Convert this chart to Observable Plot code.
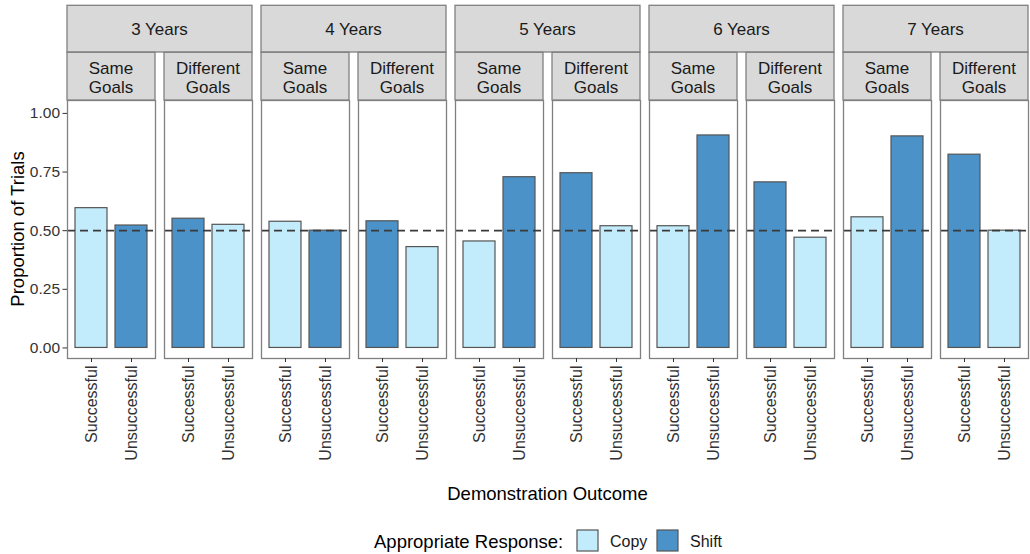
<!DOCTYPE html>
<html><head><meta charset="utf-8">
<script src="https://cdn.jsdelivr.net/npm/d3@7"></script>
<script src="https://cdn.jsdelivr.net/npm/@observablehq/plot@0.6"></script>
<style>
body{margin:0;background:#fff}
svg{font-family:"Liberation Sans",Arial,sans-serif}
</style>
</head><body><div id="chart"></div>
<script>
const ages = ["3 Years","4 Years","5 Years","6 Years","7 Years"];
const goals = ["Same Goals","Different Goals"];
const outcomes = ["Successful","Unsuccessful"];
// values per age: [Successful, Unsuccessful]
const sameGoalsValues = [[0.596,0.522],[0.538,0.500],[0.454,0.728],[0.519,0.906],[0.557,0.902]];
const differentGoalsValues = [[0.551,0.525],[0.540,0.430],[0.745,0.519],[0.706,0.470],[0.824,0.500]];
// appropriate response per outcome
const sameGoalsResponse = ["Copy","Shift"];
const differentGoalsResponse = ["Shift","Copy"];
const responses = ["Copy","Shift"];
const responseColors = ["#c2ecfb","#4b92c9"];
const yTicks = [0,0.25,0.5,0.75,1];
const chanceLevel = [0.5];

const rows = [];
const keys = [];
ages.forEach((age,i)=>{
  goals.forEach(goal=>{
    const key = age+"|"+goal;
    keys.push(key);
    const vals = goal==="Same Goals" ? sameGoalsValues[i] : differentGoalsValues[i];
    const resp = goal==="Same Goals" ? sameGoalsResponse : differentGoalsResponse;
    outcomes.forEach((o,j)=>rows.push({key, age, goal, outcome:o, value:vals[j], response:resp[j]}));
  });
});

const W=1030,H=554,ML=67,MR=2,MT=100,MB=196;
const plot = Plot.plot({
  width:W, height:H, marginLeft:ML, marginRight:MR, marginTop:MT, marginBottom:MB,
  style:{fontFamily:'"Liberation Sans",Arial,sans-serif', fontSize:"16px", background:"#fff", color:"#333"},
  fx:{domain:keys, paddingInner:9/97, paddingOuter:0, axis:null, label:null},
  x:{domain:outcomes, paddingInner:0.2, paddingOuter:0.2, label:null},
  y:{domain:[-0.045,1.055], label:null},
  color:{domain:responses, range:responseColors},
  marks:[
    Plot.barY(rows,{fx:"key", x:"outcome", y:"value", fill:"response", stroke:"#555", strokeWidth:1.2}),
    Plot.ruleY(chanceLevel,{stroke:"#3a3a3a", strokeWidth:1.8, strokeDasharray:"8,5"}),
    Plot.frame({stroke:"#808080", strokeWidth:1.3}),
    Plot.axisX({tickRotate:-90, tickSize:4, tickPadding:3, fontSize:16, label:null, stroke:"#333"}),
    Plot.axisY({ticks:yTicks, tickFormat:d3.format(".2f"), tickSize:4.5, tickPadding:3, fontSize:15.5, label:null, stroke:"#333"})
  ]
});

const svg = d3.select(plot);
const fxs = plot.scale("fx");
let fxf, bw;
if (fxs && typeof fxs.apply === "function") { fxf = v=>fxs.apply(v); bw = fxs.bandwidth; }
else {
  const b = d3.scaleBand(keys,[ML,W-MR]).paddingInner(9/97).paddingOuter(0);
  fxf = b; bw = b.bandwidth();
}

const g = svg.append("g").attr("font-family",'"Liberation Sans",Arial,sans-serif').attr("text-anchor","start");
ages.forEach(age=>{
  const x0 = fxf(age+"|"+goals[0]);
  const x1 = fxf(age+"|"+goals[1]) + bw;
  g.append("rect").attr("x",x0).attr("y",5.3).attr("width",x1-x0).attr("height",46.7)
    .attr("fill","#d9d9d9").attr("stroke","#808080").attr("stroke-width",1.3);
  g.append("text").attr("x",(x0+x1)/2).attr("y",29).attr("text-anchor","middle")
    .attr("dominant-baseline","central").attr("font-size",17).attr("fill","#1a1a1a").text(age);
  goals.forEach(goal=>{
    const x = fxf(age+"|"+goal);
    g.append("rect").attr("x",x).attr("y",52.3).attr("width",bw).attr("height",47.7)
      .attr("fill","#d9d9d9").attr("stroke","#808080").attr("stroke-width",1.3);
    const words = goal.split(" ");
    words.forEach((w,k)=>{
      g.append("text").attr("x",x+bw/2).attr("y",68+k*19).attr("text-anchor","middle")
        .attr("dominant-baseline","central").attr("font-size",17).attr("fill","#1a1a1a").text(w);
    });
  });
});

// axis titles
g.append("text").attr("x",(ML+W-MR)/2).attr("y",493).attr("text-anchor","middle")
  .attr("dominant-baseline","central").attr("font-size",18.5).attr("fill","#000").text("Demonstration Outcome");
g.append("text").attr("transform",`translate(17,${(MT+H-MB)/2}) rotate(-90)`).attr("text-anchor","middle")
  .attr("dominant-baseline","central").attr("font-size",18.5).attr("fill","#000").text("Proportion of Trials");

// legend
const color = plot.scale("color");
const lg = g.append("g").attr("text-anchor","start");
lg.append("text").attr("x",374).attr("y",541).attr("text-anchor","start").attr("dominant-baseline","central")
  .attr("font-size",18.5).attr("fill","#000").text("Appropriate Response:");
const legendX = [577,657];
responses.forEach((r,i)=>{
  const c = color && color.apply ? color.apply(r) : responseColors[i];
  lg.append("rect").attr("x",legendX[i]).attr("y",530).attr("width",21).attr("height",21)
    .attr("fill",c).attr("stroke","#555").attr("stroke-width",1.2);
  lg.append("text").attr("x",legendX[i]+33).attr("y",541).attr("text-anchor","start").attr("dominant-baseline","central")
    .attr("font-size",16).attr("fill","#1a1a1a").text(r);
});

document.getElementById("chart").appendChild(plot);
</script>
</body></html>
